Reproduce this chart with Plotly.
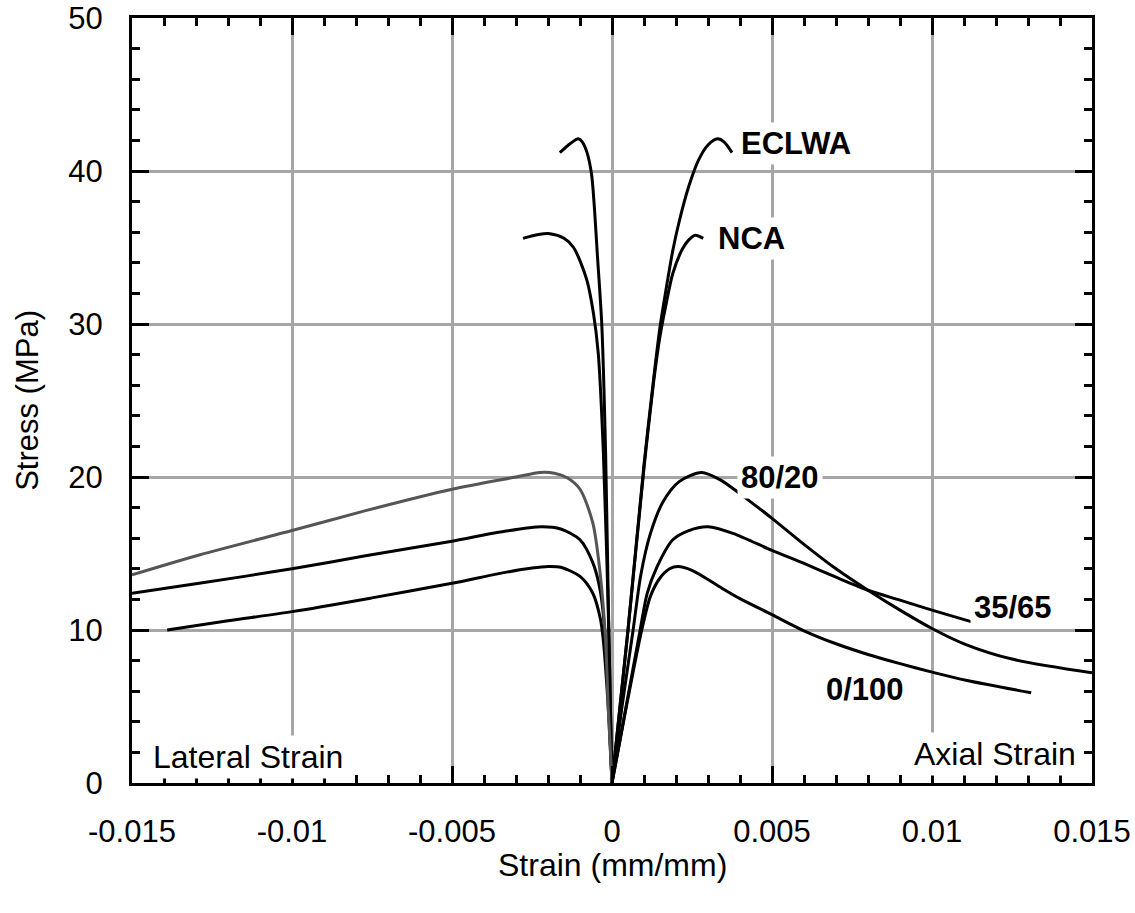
import plotly.graph_objects as go

# Stress-strain curves: axial (positive strain) and lateral (negative strain) branches
eclwa_ax_strain = [0, 0.0005, 0.001, 0.0013, 0.0015, 0.0017, 0.0019, 0.0021, 0.0024, 0.0027, 0.003, 0.0033, 0.0035, 0.00375]
eclwa_ax_stress = [0, 10.0, 20.8, 26.4, 29.8, 32.4, 34.8, 36.7, 39.0, 40.7, 41.7, 42.1, 41.9, 41.2]
eclwa_lat_strain = [0, -0.0001, -0.0002, -0.00032, -0.00046, -0.00055, -0.00064, -0.00078, -0.00093, -0.00105, -0.0013, -0.00163]
eclwa_lat_stress = [0, 10.0, 21.6, 30.0, 34.6, 37.6, 39.8, 41.2, 41.9, 42.1, 41.8, 41.2]

nca_ax_strain = [0, 0.0005, 0.001, 0.0013, 0.0015, 0.0017, 0.0019, 0.0022, 0.0024, 0.0026, 0.00285]
nca_ax_stress = [0, 10.0, 20.6, 26.2, 29.2, 31.4, 33.3, 34.9, 35.5, 35.8, 35.6]
nca_lat_strain = [0, -0.0001, -0.00027, -0.00043, -0.00058, -0.00079, -0.0012, -0.0015, -0.00194, -0.0023, -0.00278]
nca_lat_stress = [0, 10.0, 21.6, 28.1, 30.7, 32.9, 35.0, 35.6, 35.9, 35.85, 35.6]

m8020_ax_strain = [0, 0.0003, 0.00066, 0.0009, 0.0012, 0.0016, 0.0021, 0.0028, 0.0034, 0.004,
                   0.005, 0.006, 0.007, 0.008, 0.009, 0.01, 0.011, 0.0125, 0.015]
m8020_ax_stress = [0, 4.8, 10.0, 13.6, 16.3, 18.4, 19.7, 20.3, 19.8, 18.9,
                   17.3, 15.6, 14.0, 12.6, 11.3, 10.1, 9.1, 8.1, 7.2]
m8020_lat_strain = [0, -0.00012, -0.0002, -0.00037, -0.0006, -0.001, -0.0014, -0.0018, -0.00225, -0.003,
                    -0.005, -0.0077, -0.01, -0.0129, -0.015]
m8020_lat_stress = [0, 5.0, 9.3, 13.7, 17.0, 19.2, 19.95, 20.25, 20.3, 20.0,
                    19.2, 17.8, 16.5, 14.9, 13.6]

m3565_ax_strain = [0, 0.00044, 0.00088, 0.0011, 0.0014, 0.0019, 0.0024, 0.003, 0.0038, 0.005, 0.006,
                   0.007, 0.008, 0.009, 0.01, 0.0113]
m3565_ax_stress = [0, 5.0, 10.0, 12.4, 14.1, 15.9, 16.5, 16.75, 16.3, 15.2, 14.35,
                   13.45, 12.6, 11.95, 11.3, 10.5]
m3565_lat_strain = [0, -0.0001, -0.0002, -0.00037, -0.0006, -0.001, -0.0016, -0.0022, -0.0035, -0.005,
                    -0.0077, -0.01, -0.0129, -0.015]
m3565_lat_stress = [0, 5.0, 9.3, 12.6, 14.4, 15.9, 16.6, 16.75, 16.4, 15.8,
                    14.85, 14.0, 13.05, 12.4]

m0100_ax_strain = [0, 0.00045, 0.00093, 0.0012, 0.0015, 0.0018, 0.00206, 0.0025, 0.003, 0.0035, 0.004,
                   0.005, 0.006, 0.007, 0.008, 0.009, 0.01, 0.0111, 0.0131]
m0100_ax_stress = [0, 5.0, 10.0, 12.2, 13.4, 14.0, 14.15, 13.9, 13.3, 12.65, 12.05,
                   11.0, 9.95, 9.1, 8.4, 7.8, 7.25, 6.7, 5.9]
m0100_lat_strain = [0, -0.00012, -0.00028, -0.00037, -0.0006, -0.001, -0.0016, -0.002, -0.0025, -0.0035,
                    -0.005, -0.0075, -0.01, -0.012, -0.0139]
m0100_lat_stress = [0, 5.0, 9.5, 10.8, 12.4, 13.5, 14.1, 14.15, 14.05, 13.7,
                    13.05, 12.1, 11.2, 10.6, 10.0]

x_tick_vals = [-0.015, -0.01, -0.005, 0, 0.005, 0.01, 0.015]
x_tick_text = ["-0.015", "-0.01", "-0.005", "0", "0.005", "0.01", "0.015"]
y_tick_vals = [0, 10, 20, 30, 40, 50]

# Curve labels: text, strain, stress, anchor
curve_labels = [
    ("ECLWA", 0.0039, 41.8, "left"),
    ("NCA", 0.0032, 35.6, "left"),
    ("80/20", 0.0039, 20.0, "left"),
    ("35/65", 0.0112, 11.5, "left"),
    ("0/100", 0.00655, 6.1, "left"),
]
region_labels = [
    ("Lateral Strain", -0.01447, 1.7, "left"),
    ("Axial Strain", 0.01463, 1.9, "right"),
]

FONT = "Liberation Sans, Arial, Helvetica, sans-serif"
BLACK = "#000000"
GRAY = "#555555"

series = [
    (eclwa_ax_strain, eclwa_ax_stress, BLACK),
    (eclwa_lat_strain, eclwa_lat_stress, BLACK),
    (nca_ax_strain, nca_ax_stress, BLACK),
    (nca_lat_strain, nca_lat_stress, BLACK),
    (m0100_ax_strain, m0100_ax_stress, BLACK),
    (m0100_lat_strain, m0100_lat_stress, BLACK),
    (m3565_ax_strain, m3565_ax_stress, BLACK),
    (m3565_lat_strain, m3565_lat_stress, BLACK),
    (m8020_ax_strain, m8020_ax_stress, BLACK),
    (m8020_lat_strain, m8020_lat_stress, GRAY),
]

fig = go.Figure()
for xs, ys, col in series:
    fig.add_trace(go.Scatter(
        x=xs, y=ys, mode="lines",
        line=dict(color=col, width=3, shape="spline", smoothing=0.8),
        showlegend=False, hoverinfo="skip",
    ))

for text, x, y, anchor in curve_labels:
    fig.add_annotation(x=x, y=y, xref="x", yref="y", text=f"<b>{text}</b>",
                       showarrow=False, xanchor=anchor, yanchor="middle",
                       font=dict(family=FONT, size=31, color=BLACK),
                       bgcolor="white", borderpad=3)
for text, x, y, anchor in region_labels:
    fig.add_annotation(x=x, y=y, xref="x", yref="y", text=text,
                       showarrow=False, xanchor=anchor, yanchor="middle",
                       font=dict(family=FONT, size=32, color=BLACK),
                       bgcolor="white", borderpad=3)

# Axis titles
fig.add_annotation(x=0.5, y=-0.107, xref="paper", yref="paper", text="Strain (mm/mm)",
                   showarrow=False, xanchor="center", yanchor="middle",
                   font=dict(family=FONT, size=32, color=BLACK))
fig.add_annotation(x=-0.109, y=0.5, xref="paper", yref="paper", text="Stress (MPa)",
                   showarrow=False, xanchor="center", yanchor="middle", textangle=-90,
                   font=dict(family=FONT, size=31, color=BLACK))

axis_common = dict(
    showline=True, linecolor=BLACK, linewidth=3, mirror="allticks",
    ticks="inside", ticklen=17, tickwidth=3, tickcolor=BLACK,
    showgrid=True, gridcolor="#A6A6A6", gridwidth=2.5,
    zeroline=False,
    tickfont=dict(family=FONT, size=31, color=BLACK),
)

fig.update_xaxes(
    range=[-0.015, 0.015], tickmode="array", tickvals=x_tick_vals, ticktext=x_tick_text,
    ticklabelstandoff=19,
    minor=dict(ticks="inside", ticklen=8, tickwidth=3, tickcolor=BLACK, dtick=0.001,
               tick0=0, showgrid=False),
    **axis_common,
)
fig.update_yaxes(
    range=[0, 50], tickmode="array", tickvals=y_tick_vals,
    ticklabelstandoff=20, ticksuffix="\u2009",
    minor=dict(ticks="inside", ticklen=8, tickwidth=3, tickcolor=BLACK, dtick=2,
               tick0=0, showgrid=False),
    **axis_common,
)

fig.update_layout(
    width=1135, height=913,
    margin=dict(l=132, r=43, t=18, b=130, autoexpand=False),
    paper_bgcolor="white", plot_bgcolor="white",
    font=dict(family=FONT, color=BLACK),
)

fig.write_html("out.html")
